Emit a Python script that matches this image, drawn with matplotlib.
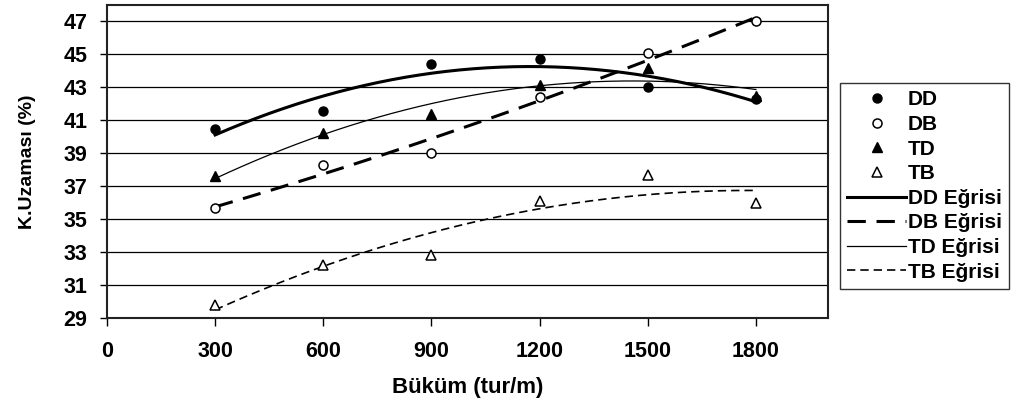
#!/usr/bin/env python

import matplotlib
matplotlib.use("Agg")
import matplotlib.pyplot as plt
import numpy as np

plt.rcParams['font.family'] = ['Liberation Sans', 'DejaVu Sans']
plt.rcParams['font.weight'] = 'bold'

# twist (tur/m)
buk = [300, 600, 900, 1200, 1500, 1800]

# elongation at break (%)
dd = [40.45, 41.55, 44.4, 44.75, 43.05, 42.3]
db = [35.65, 38.3, 39.0, 42.4, 45.1, 47.0]
td = [37.6, 40.2, 41.4, 43.15, 44.15, 42.45]
tb = [29.8, 32.2, 32.85, 36.1, 37.7, 36.0]

xticks = [0, 300, 600, 900, 1200, 1500, 1800]
yticks = [29, 31, 33, 35, 37, 39, 41, 43, 45, 47]


def trend(x, y):
    # 2nd order polynomial trendline, like the spreadsheet one
    c = np.polyfit(x, y, 2)
    xs = np.linspace(min(x), max(x), 200)
    return xs, np.polyval(c, xs)


fs = 15.5

fig = plt.figure(figsize=(10.11, 4.05), dpi=100)
ax = fig.add_axes([0.1058, 0.215, 0.7132, 0.7727])

for v in yticks:
    ax.axhline(v, color='black', lw=0.9, zorder=1)

ms = 6.5
ax.plot(buk, dd, 'o', color='black', ms=ms, ls='none', label='DD', zorder=4)
ax.plot(buk, db, 'o', mfc='white', mec='black', mew=1.1, ms=ms, ls='none',
        label='DB', zorder=4)
ax.plot(buk, td, '^', color='black', ms=ms + 1, ls='none', label='TD', zorder=4)
ax.plot(buk, tb, '^', mfc='white', mec='black', mew=1.1, ms=ms + 1, ls='none',
        label='TB', zorder=4)

xs, ys = trend(buk, dd)
ax.plot(xs, ys, color='black', lw=2.2, label='DD Eğrisi', zorder=3)
xs, ys = trend(buk, db)
ax.plot(xs, ys, color='black', lw=2.2, ls=(0, (6, 3.5)), label='DB Eğrisi',
        zorder=3)
xs, ys = trend(buk, td)
ax.plot(xs, ys, color='black', lw=0.9, label='TD Eğrisi', zorder=3)
xs, ys = trend(buk, tb)
ax.plot(xs, ys, color='black', lw=1.2, ls=(0, (5, 3)), label='TB Eğrisi',
        zorder=3)

ax.set_xlim(0, 2000)
ax.set_ylim(29, 48)
ax.set_xticks(xticks)
ax.set_yticks(yticks)
ax.tick_params(axis='x', direction='out', length=5.5, width=1,
               labelsize=fs, pad=11)
ax.tick_params(axis='y', direction='out', length=5, width=1,
               labelsize=fs, pad=9)
for lab in ax.get_xticklabels() + ax.get_yticklabels():
    lab.set_fontweight('bold')
for s in ax.spines.values():
    s.set_linewidth(1.5)
    s.set_color('#222222')

ax.set_xlabel('Büküm (tur/m)', fontsize=16, fontweight='bold', labelpad=11)
ax.set_ylabel('K.Uzaması (%)', fontsize=14, fontweight='bold', labelpad=20)

leg = fig.legend(loc='upper left', bbox_to_anchor=(0.831, 0.795),
                 fontsize=15, frameon=True, fancybox=False, edgecolor='black',
                 handlelength=2.8, handletextpad=0.1, labelspacing=0.27,
                 borderpad=0.35, borderaxespad=0)
leg.get_frame().set_linewidth(1.0)
for t in leg.get_texts():
    t.set_fontweight('bold')

fig.savefig('out.png', dpi=100)
